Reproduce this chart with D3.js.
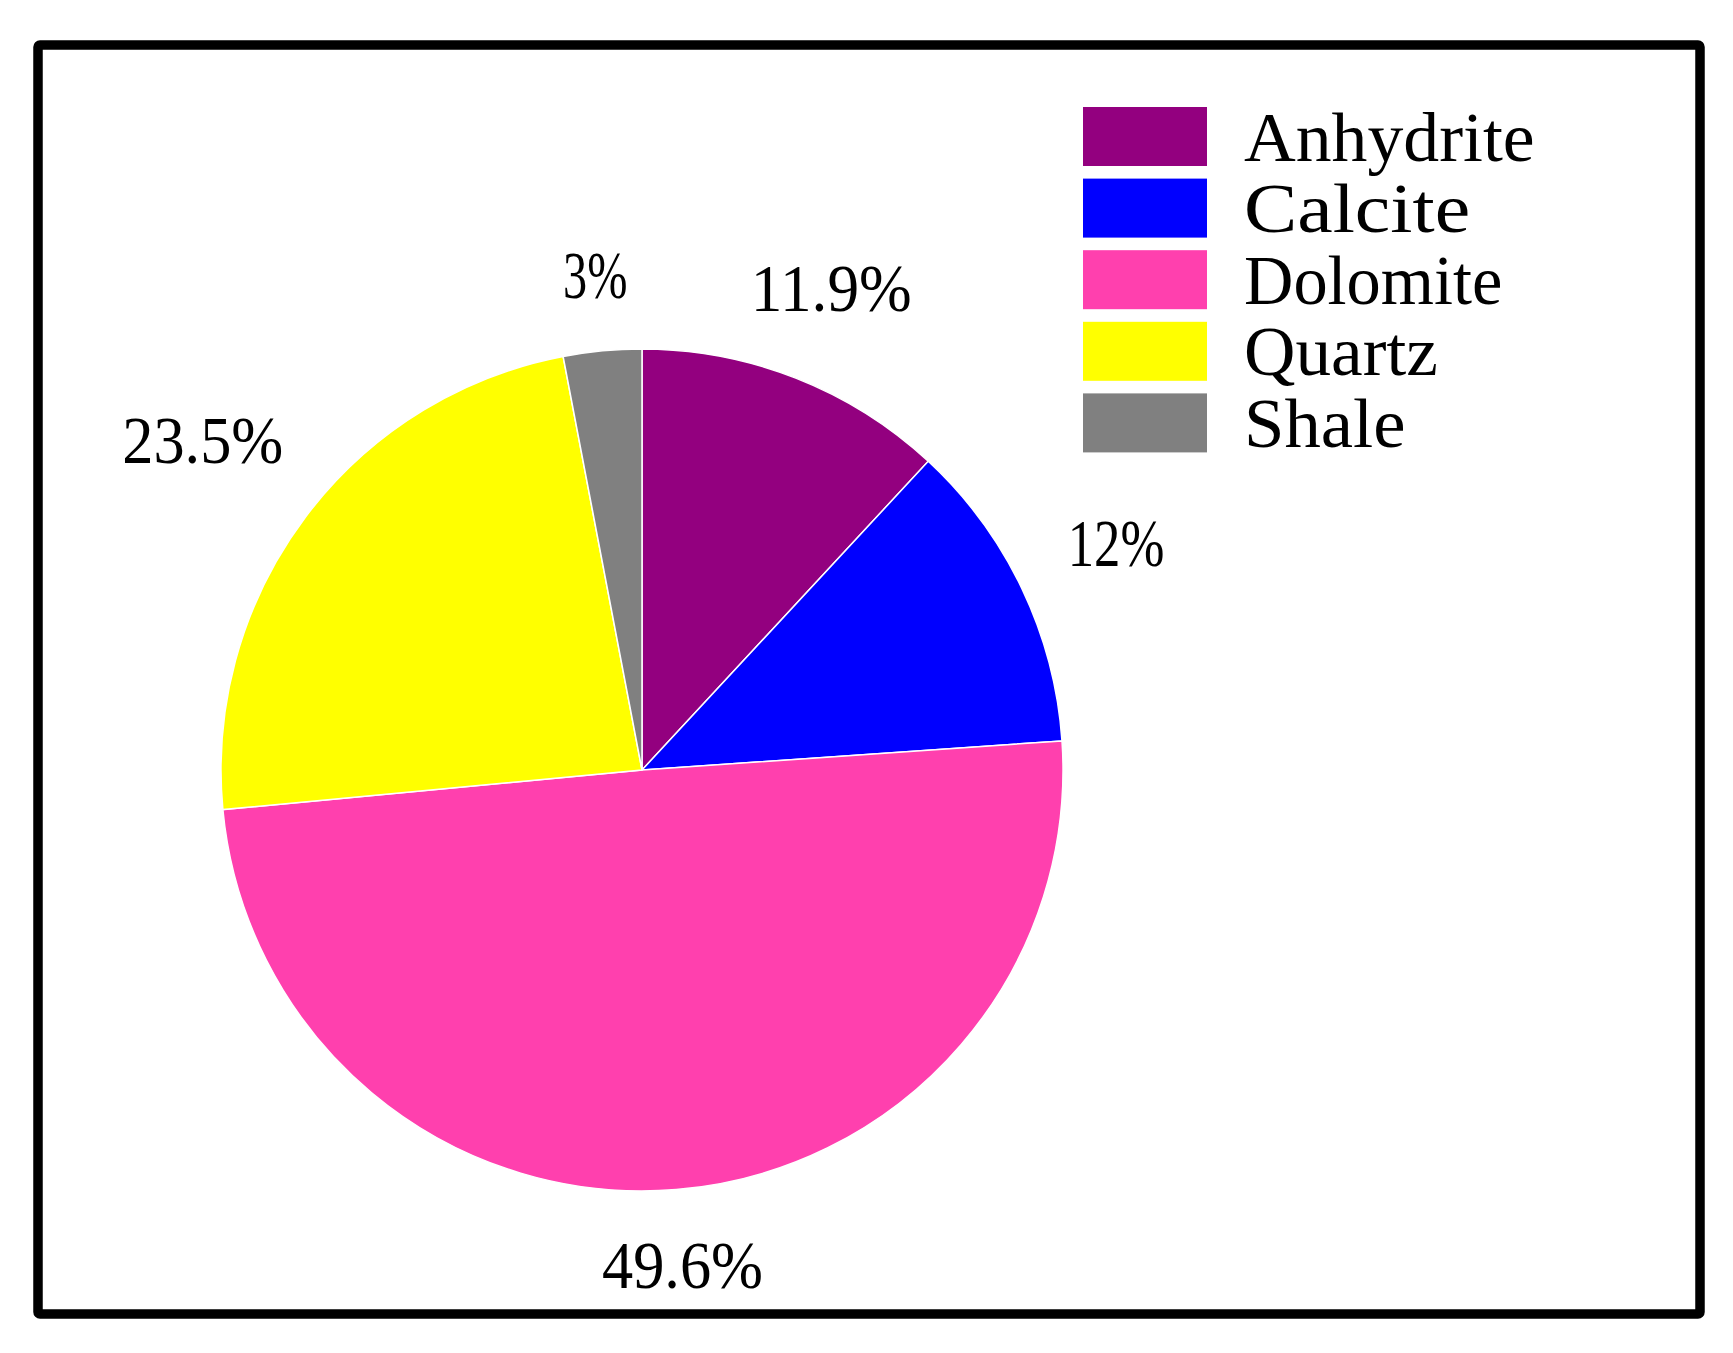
<!DOCTYPE html>
<html>
<head>
<meta charset="utf-8">
<script src="https://cdn.jsdelivr.net/npm/d3@7"></script>
<style>
  html, body { margin: 0; padding: 0; background: #fff; }
  svg { display: block; }
</style>
</head>
<body>
<svg id="chart" width="1733" height="1353"></svg>
<script>
// ---- data ----
const categories = ["Anhydrite", "Calcite", "Dolomite", "Quartz", "Shale"];
const values = [11.9, 12, 49.6, 23.5, 3];
const labels = ["11.9%", "12%", "49.6%", "23.5%", "3%"];
const colors = ["#93007f", "#0000ff", "#ff40ae", "#ffff00", "#808080"];

const svg = d3.select("#chart");

// frame
svg.append("rect")
  .attr("x", 38).attr("y", 45)
  .attr("width", 1662).attr("height", 1269)
  .attr("rx", 2)
  .attr("fill", "#fff")
  .attr("stroke", "#000")
  .attr("stroke-width", 9.5);

const cx = 642, cy = 770, R = 421;
const g = svg.append("g").attr("transform", `translate(${cx},${cy})`);

const pie = d3.pie().sort(null).value(d => d.v);
const data = categories.map((c, i) => ({ name: c, v: values[i], label: labels[i], color: colors[i] }));
const arcs = pie(data);
const arc = d3.arc().innerRadius(0).outerRadius(R);

g.selectAll("path.slice")
  .data(arcs)
  .enter().append("path")
  .attr("class", "slice")
  .attr("d", arc)
  .attr("fill", d => d.data.color)
  .attr("stroke", "#fff")
  .attr("stroke-width", 1.5);

// labels: box centred on the slice mid-angle ray, nearest box point at distance `gap`
const gap = 472;
const fontFam = "'Liberation Serif', 'DejaVu Serif', serif";
const labelCharW = 32.2;
const capH = 46;
function nearestDist(D, s, c, hw, hh) {
  const x = s * D, y = -c * D;
  const nx = Math.max(x - hw, Math.min(0, x + hw));
  const ny = Math.max(y - hh, Math.min(0, y + hh));
  return Math.hypot(nx, ny);
}
g.selectAll("text.lbl")
  .data(arcs)
  .enter().append("text")
  .attr("class", "lbl")
  .attr("font-family", fontFam)
  .attr("font-size", 68)
  .attr("fill", "#000")
  .attr("textLength", d => d.data.label.length * labelCharW)
  .attr("lengthAdjust", "spacingAndGlyphs")
  .text(d => d.data.label)
  .each(function(d) {
    const a = (d.startAngle + d.endAngle) / 2;
    const w = d.data.label.length * labelCharW;
    const s = Math.sin(a), c = Math.cos(a);
    let lo = 0, hi = 1000;
    for (let k = 0; k < 60; k++) {
      const mid = (lo + hi) / 2;
      if (nearestDist(mid, s, c, w / 2, capH / 2) < gap) lo = mid; else hi = mid;
    }
    const D = (lo + hi) / 2;
    d3.select(this).attr("x", s * D - w / 2).attr("y", -c * D + capH / 2);
  });

// legend
const lg = svg.append("g").attr("transform", "translate(1083,107)");
const pitch = 71.6, sw = 124, sh = 59, legCharW = 32.3;
const items = lg.selectAll("g.item").data(data).enter().append("g")
  .attr("class", "item")
  .attr("transform", (d, i) => `translate(0,${i * pitch})`);
items.append("rect")
  .attr("width", sw).attr("height", sh)
  .attr("fill", d => d.color);
items.append("text")
  .attr("x", 161)
  .attr("y", sh / 2 + 24)
  .attr("font-family", fontFam)
  .attr("font-size", 69)
  .attr("fill", "#000")
  .attr("textLength", d => d.name.length * legCharW)
  .attr("lengthAdjust", "spacingAndGlyphs")
  .text(d => d.name);
</script>
</body>
</html>
